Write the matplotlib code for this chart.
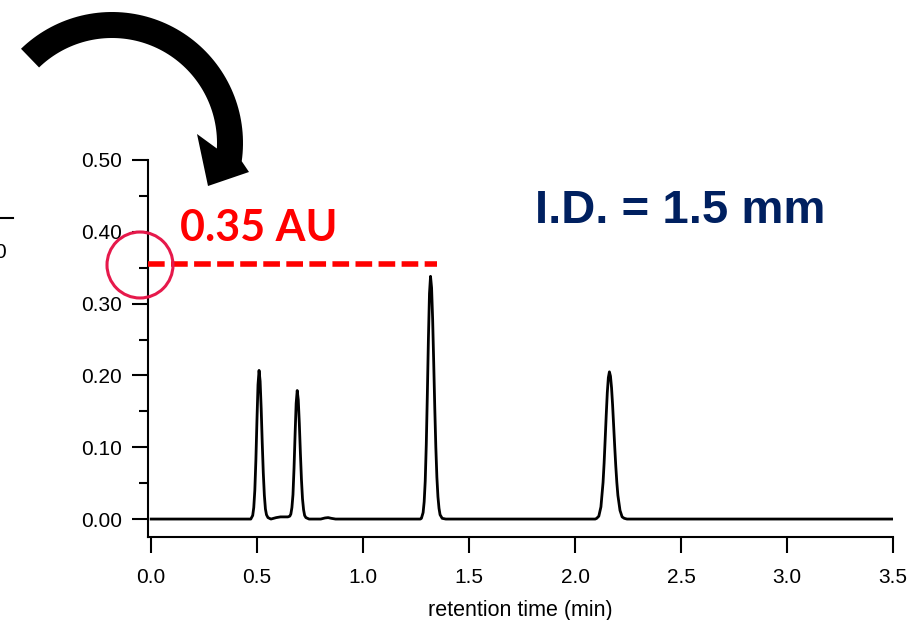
import numpy as np
import matplotlib.pyplot as plt
from matplotlib.patches import Polygon, Circle
from matplotlib.ticker import MultipleLocator, FormatStrFormatter

plt.rcParams['font.family'] = ['Liberation Sans', 'DejaVu Sans']

# chromatogram trace (min, AU)
time = [0.000, 0.470, 0.479, 0.484, 0.489, 0.494, 0.499, 0.504, 0.509, 0.514,
        0.519, 0.524, 0.529, 0.534, 0.539, 0.544, 0.551, 0.565, 0.590, 0.610,
        0.630, 0.645, 0.654, 0.659, 0.664, 0.669, 0.674, 0.679, 0.684, 0.689,
        0.694, 0.699, 0.704, 0.709, 0.714, 0.719, 0.724, 0.730, 0.745, 0.800,
        0.820, 0.835, 0.850, 0.870, 1.270, 1.275, 1.283, 1.288, 1.293, 1.298,
        1.303, 1.308, 1.313, 1.318, 1.323, 1.328, 1.333, 1.338, 1.343, 1.348,
        1.353, 1.358, 1.363, 1.373, 1.390, 2.095, 2.102, 2.112, 2.122, 2.132,
        2.137, 2.142, 2.147, 2.152, 2.157, 2.162, 2.167, 2.172, 2.177, 2.182,
        2.187, 2.192, 2.197, 2.202, 2.212, 2.222, 2.232, 2.245, 3.500]
absorb = [0.000, 0.000, 0.005, 0.016, 0.040, 0.082, 0.137, 0.187, 0.207, 0.192,
          0.154, 0.106, 0.064, 0.033, 0.014, 0.006, 0.002, 0.000, 0.002, 0.003,
          0.003, 0.003, 0.004, 0.007, 0.016, 0.034, 0.071, 0.118, 0.161, 0.179,
          0.166, 0.133, 0.092, 0.055, 0.028, 0.013, 0.005, 0.002, 0.000, 0.000,
          0.0015, 0.002, 0.001, 0.000, 0.000, 0.001, 0.009, 0.024, 0.053, 0.104,
          0.174, 0.251, 0.314, 0.338, 0.322, 0.278, 0.218, 0.155, 0.100, 0.058,
          0.031, 0.015, 0.006, 0.001, 0.000, 0.000, 0.001, 0.004, 0.017, 0.051,
          0.078, 0.111, 0.145, 0.176, 0.197, 0.205, 0.199, 0.183, 0.159, 0.130,
          0.101, 0.074, 0.051, 0.033, 0.012, 0.003, 0.001, 0.000, 0.000]

level = 0.355          # red dashed marker level
level_x = [-0.015, 1.347]
level_text = "0.35 AU"
id_text = "I.D. = 1.5 mm"

fig = plt.figure(figsize=(9.15, 6.2), dpi=100)
ax = fig.add_axes([148/915, 1 - 537/620, 745/915, 377/620])

ax.plot(time, absorb, color="black", lw=2.0, solid_joinstyle="round")
ax.hlines(level, level_x[0], level_x[1], colors="#ff0000", lw=4,
          linestyles=(0, (3.0, 1.15)), zorder=5)

ax.set_xlim(-0.015, 3.5)
ax.set_ylim(-0.025, 0.5)
ax.spines["top"].set_visible(False)
ax.spines["right"].set_visible(False)
for s in ["left", "bottom"]:
    ax.spines[s].set_linewidth(1.5)
ax.xaxis.set_major_locator(MultipleLocator(0.5))
ax.xaxis.set_major_formatter(FormatStrFormatter("%.1f"))
ax.yaxis.set_major_locator(MultipleLocator(0.1))
ax.yaxis.set_minor_locator(MultipleLocator(0.05))
ax.yaxis.set_major_formatter(FormatStrFormatter("%.2f"))
ax.tick_params(axis="x", direction="out", length=11.5, width=1.5, pad=11, labelsize=15)
ax.tick_params(axis="y", which="major", direction="out", length=11.5, width=1.5, pad=7, labelsize=15)
ax.tick_params(axis="y", which="minor", direction="out", length=6.5, width=1.5)
ax.set_xlabel("retention time (min)", fontsize=15.5, labelpad=9)

# overlay in pixel coordinates for the slide decorations
ov = fig.add_axes([0, 0, 1, 1], zorder=10)
ov.set_xlim(0, 915)
ov.set_ylim(620, 0)
ov.axis("off")
ov.patch.set_alpha(0)

# curved arrow
cx, cy, r_out, r_in = 112, 143, 131, 105
th_o = np.radians(np.linspace(134, -8, 80))
th_i = np.radians(np.linspace(-3, 134, 80))
outer = np.column_stack([cx + r_out*np.cos(th_o), cy - r_out*np.sin(th_o)])
inner = np.column_stack([cx + r_in*np.cos(th_i), cy - r_in*np.sin(th_i)])
head = np.array([[249, 172], [208, 186], [197, 134]])
ov.add_patch(Polygon(np.vstack([outer, head, inner]), closed=True,
                     facecolor="black", edgecolor="none"))

ov.add_patch(Circle((140, 265), 33, facecolor="none", edgecolor="#e6194b", lw=2.2))
ov.text(180, 241, level_text, color="#ff0000", fontsize=31, fontweight="bold",
        family=["Lato", "DejaVu Sans"], ha="left", va="baseline")
ov.text(535, 223, id_text, color="#002060", fontsize=34, fontweight="bold",
        ha="left", va="baseline")

# fragments of a neighbouring chart at the left edge
ov.plot([0, 13], [218, 218], color="black", lw=1.5)
ov.text(6, 253, "0", fontsize=15, ha="right", va="center")

fig.savefig("out.png", dpi=100)
